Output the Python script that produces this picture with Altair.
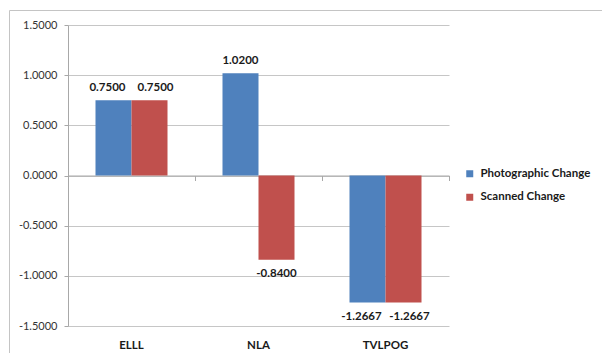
import altair as alt
import pandas as pd

# Chart data
categories = ["ELLL", "NLA", "TVLPOG"]
series_names = ["Photographic Change", "Scanned Change"]
photographic_change = [0.75, 1.02, -1.2667]
scanned_change = [0.75, -0.84, -1.2667]
y_ticks = [-1.5, -1.0, -0.5, 0.0, 0.5, 1.0, 1.5]

rows = []
for name, vals in zip(series_names, [photographic_change, scanned_change]):
    for cat, val in zip(categories, vals):
        rows.append({"category": cat, "series": name, "value": val})
df = pd.DataFrame(rows)

FONT = "Lato"
W, H = 381, 301
GRID = "#c6c6c6"
AXIS = "#a8a8a8"
GAP = 0.433  # space between groups, as a share of the category step

x_scale = alt.Scale(domain=categories, paddingInner=GAP, paddingOuter=GAP / 2)
y_scale = alt.Scale(domain=[-1.5, 1.5], nice=False)
color_scale = alt.Scale(domain=series_names, range=["#4F81BD", "#C0504D"])
offset_scale = alt.Scale(paddingInner=0, paddingOuter=0)

# four-decimal labels with a plain hyphen for negatives
fmt4 = "replace(format(%s, '.4f'), '\u2212', '-')"

base = alt.Chart(df)

# outer chart frame
frame = alt.Chart(alt.Data(values=[{}])).mark_rect(
    fillOpacity=0, stroke="#c4c4c4", strokeWidth=1
).encode(
    x=alt.value(-58.5), x2=alt.value(700), y=alt.value(-14.5), y2=alt.value(600)
)

bars = base.mark_bar().encode(
    x=alt.X(
        "category:N", scale=x_scale, sort=categories, title=None,
        axis=alt.Axis(
            orient="bottom", domain=False, ticks=False, grid=False,
            labelAngle=0, labelFont=FONT, labelFontSize=11.5,
            labelFontWeight="bold", labelColor="#1a1a1a", labelPadding=13,
        ),
    ),
    xOffset=alt.XOffset("series:N", sort=series_names, scale=offset_scale),
    y=alt.Y(
        "value:Q", scale=y_scale, title=None,
        axis=alt.Axis(
            values=y_ticks, labelExpr=fmt4 % "datum.value",
            labelFont=FONT, labelFontSize=11, labelColor="#333333",
            labelPadding=7, tickSize=4, tickColor=AXIS,
            domainColor=AXIS, gridColor=GRID,
        ),
    ),
    color=alt.Color(
        "series:N", scale=color_scale, sort=series_names,
        legend=alt.Legend(
            title=None, orient="none", legendX=396, legendY=143,
            symbolType="square", symbolSize=49, symbolStrokeWidth=0,
            labelFont=FONT, labelFontSize=11.5, labelFontWeight="bold",
            labelColor="#1a1a1a", labelOffset=5, rowPadding=10.5, padding=0,
        ),
    ),
)

# category axis drawn along the zero line, with tick marks between groups
zero_axis = base.mark_tick(opacity=0).encode(
    x=alt.X(
        "category:N", scale=x_scale, sort=categories, title=None,
        axis=alt.Axis(
            orient="bottom", offset=alt.ExprRef("scale('y', 0) - height"),
            labels=False, grid=False, domain=True, domainColor=AXIS,
            ticks=True, tickSize=5, tickColor=AXIS,
            tickOffset=alt.ExprRef("bandwidth('x') / (1 - %s) / 2" % GAP),
        ),
    ),
)


def value_labels(sign_filter, baseline, dy, pair_filter, dx):
    return base.transform_joinaggregate(
        lo="min(value)", hi="max(value)", groupby=["category"]
    ).transform_calculate(
        paired="(datum.lo >= 0) == (datum.hi >= 0)",
        label=fmt4 % "datum.value",
    ).transform_filter(sign_filter).transform_filter(pair_filter).mark_text(
        font=FONT, fontSize=11.5, fontWeight="bold", color="#1a1a1a",
        baseline=baseline, dy=dy, dx=dx,
    ).encode(
        x=alt.X("category:N", scale=x_scale, sort=categories, axis=None),
        xOffset=alt.XOffset("series:N", sort=series_names, scale=offset_scale),
        y=alt.Y("value:Q", scale=y_scale),
        text="label:N",
    )


label_layers = []
for sign_filter, baseline, dy in [
    ("datum.value >= 0", "bottom", -7),
    ("datum.value < 0", "top", 8),
]:
    for pair_filter, dx in [
        ("datum.paired && datum.series == '%s'" % series_names[0], -6),
        ("datum.paired && datum.series == '%s'" % series_names[1], 6),
        ("!datum.paired", 0),
    ]:
        label_layers.append(value_labels(sign_filter, baseline, dy, pair_filter, dx))

chart = alt.layer(frame, bars, zero_axis, *label_layers).resolve_axis(
    x="independent"
).properties(
    width=W, height=H,
    autosize=alt.AutoSizeParams(type="none"),
    padding={"left": 68, "top": 25, "right": 602 - 68 - W, "bottom": 353 - 25 - H},
    background="white",
).configure_view(stroke=None)

chart.save("out.html", embed_options={"renderer": "svg", "actions": False})
